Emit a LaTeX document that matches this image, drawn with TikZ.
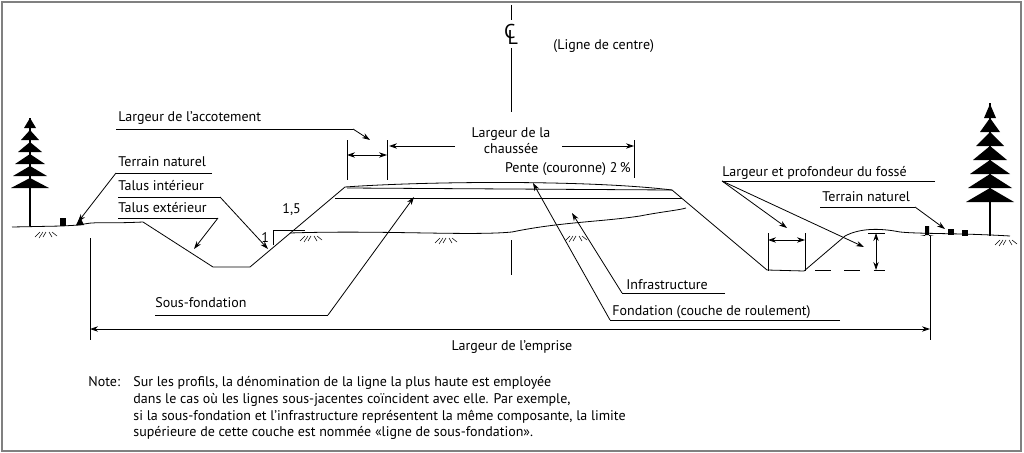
\documentclass[tikz,border=0pt]{standalone}
\usepackage{fontspec}
\setmainfont{PT Sans}
\usetikzlibrary{arrows.meta}
\begin{document}
\begin{tikzpicture}[x=0.75pt,y=-0.75pt,line width=0.6pt,
  lbl/.style={font=\fontsize{10.5}{12}\selectfont,inner sep=0pt,anchor=base west},
  lead/.style={-{Stealth[length=6pt,width=4pt]}},
  dim/.style={{Stealth[length=6pt,width=4pt]}-{Stealth[length=6pt,width=4pt]}},
  tuft/.style={line width=0.4pt}]
\useasboundingbox (0,0) rectangle (1024,453);
\draw[gray,line width=1.2pt] (2,2) rectangle (1021,451);
% centre line
\draw (511,5) -- (511,20);
\draw (511,48) -- (511,112);
\draw (511,240) -- (511,275);
\node[font=\fontsize{15}{15}\selectfont,inner sep=0pt] (cl) at (511,34) {C\kern-0.4em\raisebox{-0.3em}{L}};
\node[lbl] (clt) at (553,50) {(Ligne de centre)};
% profile
\draw (12,227) -- (62,226) -- (80,225) .. controls (95,221) and (100,224) .. (143,222)
  -- (213,267) -- (250,267) -- (345,187) .. controls (430,181) and (590,180) .. (672,190)
  -- (767,270) -- (804,271) -- (845,236) .. controls (860,228) and (880,228) .. (900,232)
  .. controls (920,234) and (960,233) .. (1010,236);
\draw (347,188) -- (672,190);
\draw (335,198) -- (682,198);
\draw (290,233) .. controls (380,230) and (470,236) .. (512,232)
  .. controls (560,222) and (600,222) .. (640,216) .. controls (660,212) and (680,210) .. (686,208);
% slope mark
\draw (273,245) -- (273,230) -- (305,230);
\node[lbl] (s15) at (282,213) {1,5};
\node[lbl] (s1) at (261,242) {1};
% top dims
\draw (347,140) -- (347,180);
\draw (387,140) -- (387,180);
\draw[dim] (347,155) -- (387,155);
\draw (634,140) -- (634,178);
\draw[lead] (455,146) -- (389,146);
\draw[lead] (562,146) -- (634,146);
\node[font=\fontsize{10.5}{12}\selectfont,align=center,inner sep=0pt] (lch) at (511,141) {Largeur de la\\chaussée};
\node[lbl,anchor=base east] (pente) at (631,172) {Pente (couronne) 2\,\%};
% labels left
\node[lbl] (acc) at (118,122) {Largeur de l'accotement};
\draw (116,129) -- (353,129);
\draw[lead] (353,129) -- (370,140);
\node[lbl] (tn1) at (118,166) {Terrain naturel};
\draw (212,173) -- (116,173);
\draw[lead] (116,173) -- (78,222);
\node[lbl] (ti) at (118,190) {Talus intérieur};
\draw (118,197) -- (220,197);
\draw[lead] (220,197) -- (268,249);
\node[lbl] (te) at (118,212) {Talus extérieur};
\draw (118,218) -- (218,218);
\draw[lead] (218,218) -- (194,249);
\node[lbl] (sf) at (155,307) {Sous-fondation};
\draw (155,315) -- (328,315);
\draw[lead] (328,315) -- (414,197);
% labels right
\node[lbl] (inf) at (626,289) {Infrastructure};
\draw (725,293) -- (622,293);
\draw[lead] (622,293) -- (572,213);
\node[lbl] (fon) at (612,315) {Fondation (couche de roulement)};
\draw (840,320) -- (610,320);
\draw[lead] (610,320) -- (533,183);
\node[lbl] (lpf) at (722,176) {Largeur et profondeur du fossé};
\draw (935,181) -- (722,181);
\draw[lead] (722,181) -- (787,228);
\draw[lead] (722,181) -- (864,247);
\node[lbl] (tn2) at (822,201) {Terrain naturel};
\draw (820,207) -- (915,207);
\draw[lead] (915,207) -- (945,229);
% ditch dims
\draw (768,233) -- (768,271);
\draw (805,233) -- (805,271);
\draw[dim] (768,240) -- (805,240);
\draw (868,233) -- (885,233);
\draw[dash pattern=on 12pt off 10pt] (815,270) -- (885,270);
\draw[dim] (876,233) -- (876,270);
% emprise
\draw (90,238) -- (90,340);
\draw (930,236) -- (930,340);
\draw[dim] (90,329) -- (930,329);
\node[font=\fontsize{10.5}{12}\selectfont,inner sep=0pt] (emp) at (512,347) {Largeur de l'emprise};
% stakes
\fill (60,226) rectangle (66,218);
\fill (76,225) -- (80,217) -- (84,225) -- cycle;
\fill (920,235) -- (925,236) -- (925,226) -- (929,226) -- (929,236) -- (934,235) -- cycle;
\fill (948,235) rectangle (954,229);
\fill (962,236) rectangle (968,230);
% tufts
\foreach \x/\y in {40/232,305/236,440/238,570/236,1000/240} {
  \draw[tuft] (\x,\y) -- ++(-5,5) (\x+3,\y) -- ++(-4,6) (\x+6,\y) -- ++(-3,5) (\x+9,\y) -- ++(3,5) (\x+12,\y) -- ++(5,4);
}
% left tree
\draw[line width=1.4pt] (30,226) -- (30,118);
\foreach \y/\w in {128/6,140/9,152/12,164/15,176/17,188/19} {
  \fill (30,\y-10) -- (30-\w,\y) -- (30+\w,\y) -- cycle;
}
% right tree
\draw[line width=2pt] (990,236) -- (990,103);
\foreach \y/\w in {118/6,132/10,146/14,160/17,174/20,188/22,202/24} {
  \fill (990,\y-14) -- (990-\w,\y) -- (990+\w,\y) -- cycle;
}
% note
\node[lbl] (nt) at (88,386) {Note:};
\node[lbl] (n1) at (133,386) {Sur les profils, la dénomination de la ligne la plus haute est employée};
\node[lbl] (n2) at (133,403) {dans le cas où les lignes sous-jacentes coïncident avec elle. Par exemple,};
\node[lbl] (n3) at (133,420) {si la sous-fondation et l'infrastructure représentent la même composante, la limite};
\node[lbl] (n4) at (133,436) {supérieure de cette couche est nommée «ligne de sous-fondation».};
\end{tikzpicture}
\end{document}
